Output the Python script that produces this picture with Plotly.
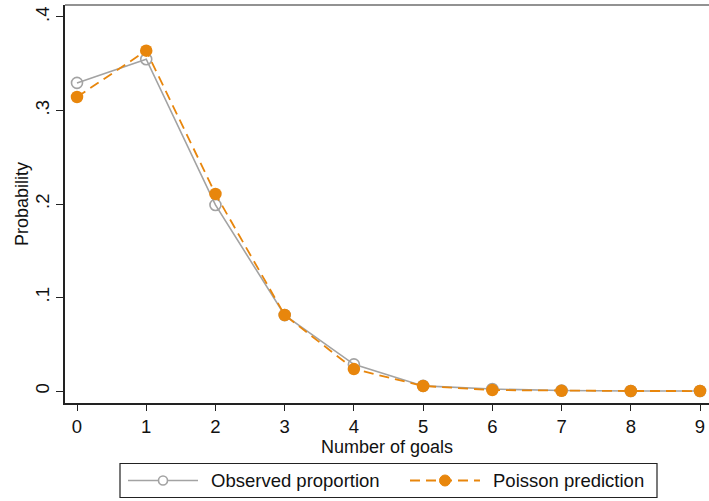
import plotly.graph_objects as go

goals = [0, 1, 2, 3, 4, 5, 6, 7, 8, 9]
observed = [0.3295, 0.3548, 0.1990, 0.0812, 0.0285, 0.0055, 0.0021, 0.0005, 0.0001, 0.0]
poisson = [0.3144, 0.3640, 0.2108, 0.0813, 0.0235, 0.0054, 0.0010, 0.0002, 0.00003, 0.0]
ytick_vals = [0, 0.1, 0.2, 0.3, 0.4]
ytick_text = ["0", ".1", ".2", ".3", ".4"]
series_names = ["Observed proportion", "Poisson prediction"]

GRAY = "#a3a3a3"
ORANGE = "#e8860c"
FONT = "Liberation Sans, Arial, sans-serif"

W, H = 709, 501
L, T, B = 65, 5, 98
PW = W - L
PH = H - T - B


def px(x):
    return (x - L) / PW


def py(y):
    return (H - B - y) / PH


fig = go.Figure()
fig.add_trace(go.Scatter(
    x=goals, y=observed, mode="lines+markers", name=series_names[0],
    line=dict(color=GRAY, width=1.6),
    marker=dict(symbol="circle-open", size=11, color=GRAY, line=dict(width=1.6, color=GRAY)),
    showlegend=False,
))
fig.add_trace(go.Scatter(
    x=goals, y=poisson, mode="lines+markers", name=series_names[1],
    line=dict(color=ORANGE, width=1.8, dash="10px,6px"),
    marker=dict(symbol="circle", size=12.5, color=ORANGE),
    showlegend=False,
))

shapes = []
# top border of plot region
shapes.append(dict(type="line", xref="paper", yref="paper", x0=0, x1=1, y0=1, y1=1,
                   line=dict(color="#6e6e6e", width=1.5)))
# legend box
shapes.append(dict(type="rect", xref="paper", yref="paper",
                   x0=px(120), x1=px(657), y0=py(463.5), y1=py(497.5),
                   line=dict(color="#222222", width=1.2), fillcolor="white"))
ly = py(480.5)
# observed legend symbol
shapes.append(dict(type="line", xref="paper", yref="paper", x0=px(128), x1=px(198), y0=ly, y1=ly,
                   line=dict(color=GRAY, width=1.6)))
shapes.append(dict(type="circle", xref="paper", yref="paper", xsizemode="pixel", ysizemode="pixel",
                   xanchor=px(163), yanchor=ly, x0=-4.5, x1=4.5, y0=-4.5, y1=4.5,
                   line=dict(color=GRAY, width=1.6), fillcolor="white"))
# poisson legend symbol
shapes.append(dict(type="line", xref="paper", yref="paper", x0=px(410), x1=px(480), y0=ly, y1=ly,
                   line=dict(color=ORANGE, width=1.8, dash="10px,6px")))
shapes.append(dict(type="circle", xref="paper", yref="paper", xsizemode="pixel", ysizemode="pixel",
                   xanchor=px(445), yanchor=ly, x0=-5.5, x1=5.5, y0=-5.5, y1=5.5,
                   line=dict(color=ORANGE, width=1), fillcolor=ORANGE))

annotations = [
    dict(text=series_names[0], xref="paper", yref="paper", x=px(209), y=ly, xanchor="left",
         yanchor="middle", showarrow=False, font=dict(size=18.5, color="#111111", family=FONT)),
    dict(text=series_names[1], xref="paper", yref="paper", x=px(491), y=ly, xanchor="left",
         yanchor="middle", showarrow=False, font=dict(size=18.5, color="#111111", family=FONT)),
    dict(text="Probability", xref="paper", yref="paper", x=px(22), y=py(204), xanchor="center",
         yanchor="middle", textangle=-90, showarrow=False,
         font=dict(size=18, color="#111111", family=FONT)),
]

fig.update_layout(
    width=W, height=H,
    margin=dict(l=L, r=0, t=T, b=B, pad=0),
    paper_bgcolor="white", plot_bgcolor="white",
    font=dict(family=FONT, size=18, color="#111111"),
    shapes=shapes, annotations=annotations,
    showlegend=False,
    xaxis=dict(
        range=[-0.1734, 9.130], tickvals=goals, ticktext=[str(g) for g in goals],
        showgrid=False, zeroline=False, showline=True, linecolor="#222222", linewidth=1.6,
        ticks="outside", ticklen=6, tickwidth=1.2, tickcolor="#222222",
        tickfont=dict(size=18.5, family=FONT, color="#111111"),
        title=dict(text="Number of goals", standoff=4, font=dict(size=18, family=FONT, color="#111111")),
    ),
    yaxis=dict(
        range=[-0.0128, 0.4128], tickvals=ytick_vals, ticktext=ytick_text,
        showgrid=False, zeroline=False, showline=True, linecolor="#222222", linewidth=1.6,
        ticks="outside", ticklen=7, tickwidth=1.2, tickcolor="#222222", tickangle=-90,
        tickfont=dict(size=18.5, family=FONT, color="#111111"),
    ),
)

fig.write_html(
    "out.html",
    config={"displayModeBar": False},
    post_script="document.body.style.margin='0';document.body.style.overflow='hidden';",
)
